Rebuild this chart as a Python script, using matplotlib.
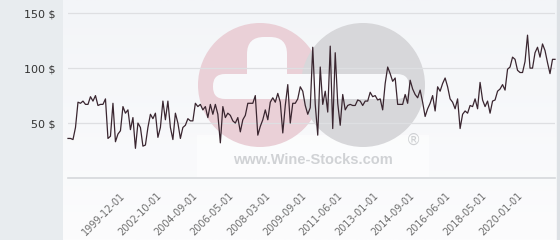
import numpy as np
import matplotlib.pyplot as plt
from matplotlib.patches import Circle, FancyBboxPatch, Rectangle

# price history (USD)
prices = [36, 36, 35, 46, 69, 68, 70, 67, 67, 74, 70, 75, 66, 67, 67, 72, 36, 38, 68, 33,
          40, 43, 65, 59, 62, 44, 55, 27, 50, 46,
          29, 30, 46, 58, 54, 59, 37, 46, 70, 53, 70, 46, 35, 59, 50, 36, 46, 48, 54, 52,
          52, 68, 65, 67, 62, 65, 55, 67, 58, 67, 58, 32, 65, 55, 59, 57, 52,
          50, 55, 42, 53, 57, 68, 68, 68, 75, 39, 47, 53, 62, 53, 69, 73, 69, 77, 69,
          41, 66, 85, 50, 68, 68, 72, 83, 79, 66, 58, 64,
          119, 67, 39, 101, 67, 79, 60, 120, 45, 114, 68, 48, 76, 62, 66, 67, 66, 66, 71, 70,
          66, 70, 70, 78, 74, 75, 71, 72, 62, 86, 101, 95, 88, 91, 67,
          67, 67, 76, 68, 89, 81, 76, 73, 80, 69, 56, 63, 68, 75, 61, 83, 79, 86, 91, 83,
          72, 69, 63, 72, 45, 58, 61, 59, 66, 65, 72, 63,
          87, 71, 65, 70, 59, 70, 71, 79, 81, 85, 80, 99, 101, 110, 108, 98, 96, 96, 106, 130,
          100, 100, 114, 119, 110, 122, 116, 105, 95, 108, 108]
tick_labels = ["1999-12-01", "2002-10-01", "2004-09-01", "2006-05-01", "2008-03-01",
               "2009-09-01", "2011-06-01", "2013-01-01", "2014-09-01", "2016-06-01",
               "2018-05-01", "2020-01-01"]
y_ticks = [50, 100, 150]

n = len(prices)
x = np.arange(n)

fig = plt.figure(figsize=(5.6, 2.4), dpi=100)
fig.patch.set_facecolor("#e8ecef")

# background layer in pixel units (plot panel + watermark)
bg = fig.add_axes([0, 0, 1, 1], zorder=0)
bg.set_xlim(0, 560)
bg.set_ylim(240, 0)
bg.axis("off")
grad = np.linspace(0, 1, 100).reshape(-1, 1)
top = np.array([243, 245, 248]) / 255
bot = np.array([252, 252, 253]) / 255
img = top + (bot - top) * grad[..., None]
bg.imshow(img, extent=[63, 560, 240, 0], aspect="auto", zorder=0)
bg.add_patch(Rectangle((557, 0), 3, 240, color="#dde1e5", zorder=1))
bg.add_patch(Rectangle((197, 135), 232, 42, color="white", alpha=0.5, lw=0, zorder=1))
bg.add_patch(Circle((260, 85), 62, color="#ead0d7", lw=0, zorder=2))
bg.add_patch(Circle((363, 85), 62, color="#d7d7da", lw=0, zorder=3))
bg.add_patch(FancyBboxPatch((213, 74), 196, 25, boxstyle="round,pad=0,rounding_size=12",
                            color="#f8f9fb", lw=0, zorder=4))
bg.add_patch(FancyBboxPatch((247, 37), 40, 60, boxstyle="round,pad=0,rounding_size=17",
                            color="#f8f9fb", lw=0, zorder=4))
bg.text(313, 160, "www.Wine-Stocks.com", fontsize=10.5, fontweight="bold",
        family="Liberation Sans", color="#d0d2d5", ha="center", va="center", zorder=5)
bg.text(413, 140, "®", fontsize=11, color="#cfd1d4", ha="center", va="center", zorder=5)

ax = fig.add_axes([68 / 560, 62 / 240, 487 / 560, 178 / 240], zorder=1)
ax.set_facecolor("none")
ax.plot(x, prices, color="#3a2630", lw=0.9, zorder=3, clip_on=False)

ax.set_ylim(0, 162)
ax.set_xlim(0, n - 1)
ax.set_yticks(y_ticks)
ax.set_yticklabels([f"{v} $" for v in y_ticks], fontsize=8, color="#333333")
ax.axhline(0, color="#d6d8db", lw=1.2, zorder=1, clip_on=False)
ax.grid(axis="y", color="#dedfe2", lw=0.9)
ax.set_axisbelow(True)

tick_pos = np.linspace(21, 180, len(tick_labels))
ax.set_xticks(tick_pos)
ax.set_xticklabels(tick_labels, rotation=45, ha="right", rotation_mode="anchor",
                   fontsize=7, color="#6e6e6e")
ax.tick_params(axis="y", length=0, pad=9)
ax.tick_params(axis="x", length=0, pad=9)
for s in ax.spines.values():
    s.set_visible(False)

plt.savefig("out.png", dpi=100, facecolor=fig.get_facecolor())
